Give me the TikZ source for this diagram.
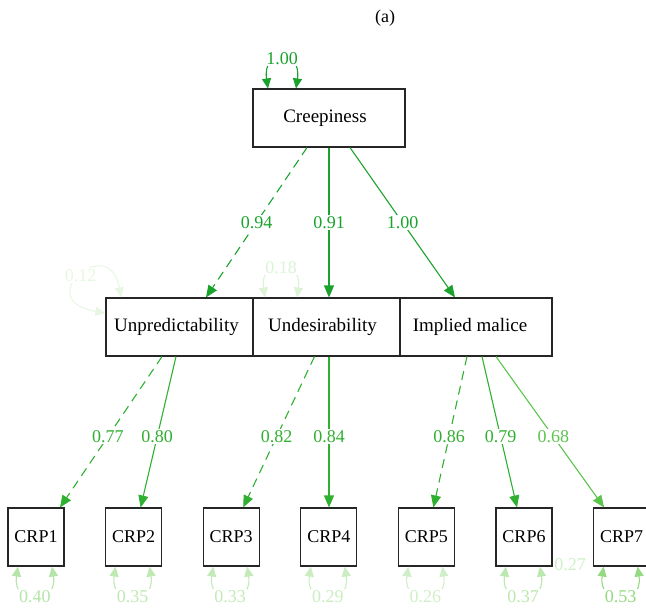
\documentclass[tikz,border=0pt]{standalone}
\usepackage{fontspec}
\setmainfont{Liberation Serif}
\usetikzlibrary{arrows.meta,positioning}
\definecolor{gdark}{RGB}{26,163,44}
\definecolor{gmid}{RGB}{48,176,48}
\definecolor{glight}{RGB}{92,196,78}
\definecolor{resbase}{RGB}{60,188,25}

\begin{document}
\begin{tikzpicture}[x=1pt,y=-1pt,
    every node/.style={font=\fontsize{18}{21}\selectfont},
    latent/.style={draw=black!85,line width=1.1pt,minimum height=58pt,inner sep=0pt,font=\fontsize{19}{22}\selectfont},
    manifest/.style={draw=black!85,line width=1.1pt,minimum width=56pt,minimum height=58pt,inner sep=0pt},
    load/.style={line width=1.1pt,-{Triangle[length=12pt,width=10pt]}},
    loopy/.style={line width=1.1pt,{Triangle[length=10pt,width=9pt]}-{Triangle[length=10pt,width=9pt]}},
    val/.style={fill=white,inner sep=1.5pt},
    dashy/.style={dash pattern=on 9pt off 6pt}]
    \useasboundingbox (0,0) rectangle (646,608);

    % Title
    \node (ttl) at (385,18) {(a)};

    % Latent boxes
    \node[latent,minimum width=152pt] (crp) at (329,118) {\hspace*{-8pt}Creepiness};
    \node[latent,minimum width=147pt] (unp) at (179.5,327) {\hspace*{-6pt}Unpredictability};
    \node[latent,minimum width=147pt] (und) at (326.5,327) {\hspace*{-8pt}Undesirability};
    \node[latent,minimum width=152pt] (imp) at (476,327) {\hspace*{-12pt}Implied malice};

    % Items
    \foreach \i in {1,...,7} {
        \node[manifest] (c\i) at ({36+(\i-1)*97.6},537) {CRP\i};
    }

    % Variance of Creepiness
    \draw[loopy,gdark] ([xshift=-61pt]crp.north) .. controls +(-6,-40) and +(6,-40) .. ([xshift=-33pt]crp.north)
        node[midway,val,text=gdark] {1.00};

    % Residuals of the factors
    \draw[loopy,resbase!12!white] ([xshift=-58.5pt]unp.north) .. controls +(-11,-66) and +(-76,-13) .. ([yshift=14pt]unp.west)
        node[midway,val,text=resbase!12!white] {0.12};
    \draw[loopy,resbase!18!white] ([xshift=-61.5pt]und.north) .. controls +(-6,-40) and +(6,-40) .. ([xshift=-29.5pt]und.north)
        node[midway,val,text=resbase!18!white] {0.18};

    % Loadings on the factors
    \draw[load,dashy,gdark] ([xshift=-22pt]crp.south) -- ([xshift=26.5pt]unp.north) node[midway,val,text=gdark] {0.94};
    \draw[load,gdark] (crp.south) -- (crp.south |- und.north) node[midway,val,text=gdark] {0.91};
    \draw[load,gdark] ([xshift=21pt]crp.south) -- ([xshift=-21pt]imp.north) node[midway,val,text=gdark] {1.00};

    % Loadings on the items
    \draw[load,dashy,gmid] ([xshift=-17.5pt]unp.south) -- ([xshift=24pt]c1.north) node[pos=0.53,val,text=gmid] {0.77};
    \draw[load,gmid] ([xshift=-3.5pt]unp.south) -- ([xshift=7pt]c2.north) node[pos=0.53,val,text=gmid] {0.80};
    \draw[load,dashy,gmid] ([xshift=-12pt]und.south) -- ([xshift=12pt]c3.north) node[pos=0.53,val,text=gmid] {0.82};
    \draw[load,gmid] ([xshift=2.5pt]und.south) -- ([xshift=0.2pt]c4.north) node[pos=0.53,val,text=gmid] {0.84};
    \draw[load,dashy,gmid] ([xshift=-9pt]imp.south) -- ([xshift=7pt]c5.north) node[pos=0.53,val,text=gmid] {0.86};
    \draw[load,gmid] ([xshift=6pt]imp.south) -- ([xshift=-7pt]c6.north) node[pos=0.53,val,text=gmid] {0.79};
    \draw[load,glight] ([xshift=20pt]imp.south) -- ([xshift=-17.5pt]c7.north) node[pos=0.53,val,text=glight] {0.68};

    % Residuals of the items
    \foreach \i/\v/\p in {1/0.40/38,2/0.35/33,3/0.33/31,4/0.29/27,5/0.26/24,6/0.37/35,7/0.53/55} {
        \draw[loopy,resbase!\p!white] ([xshift=-18pt]c\i.south) .. controls +(-6,40) and +(6,40) .. ([xshift=16pt]c\i.south)
            node[midway,val,text=resbase!\p!white] {\v};
    }
    \node[text=resbase!24!white,inner sep=1pt] (extra) at (570,565) {0.27};
\end{tikzpicture}
\end{document}
